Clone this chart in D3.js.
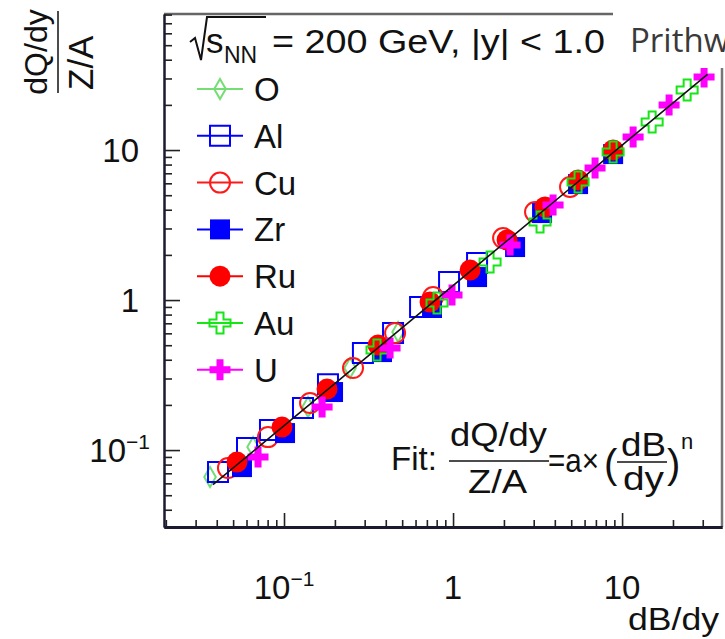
<!DOCTYPE html>
<html>
<head>
<meta charset="utf-8">
<script src="https://cdn.jsdelivr.net/npm/d3@7"></script>
<style>
body { margin: 0; background: #fff; }
text { font-family: "Liberation Sans", Arial, Helvetica, sans-serif; fill: #111; }
</style>
</head>
<body>
<div id="chart"></div>
<script>
// Values: dB/dy (x) and (dQ/dy)/(Z/A) (y) for each system
let dbO = [0.0365, 0.0656, 0.1387, 0.246, 0.473];
let dqO = [0.0661, 0.1047, 0.1936, 0.352, 0.612];

let dbAl = [0.0407, 0.0604, 0.0826, 0.1295, 0.182, 0.293, 0.4416, 0.638, 0.947, 1.387];
let dqAl = [0.0714, 0.1031, 0.136, 0.1905, 0.275, 0.443, 0.6026, 0.898, 1.318, 1.765];

let dbCu = [0.0466, 0.0804, 0.1426, 0.256, 0.454, 0.762, 1.977, 3.055, 4.92];
let dqCu = [0.0759, 0.122, 0.2058, 0.352, 0.6026, 1.047, 2.59, 3.86, 5.67];

let dbZr = [0.0564, 0.1014, 0.195, 0.380, 0.751, 1.387, 2.328, 3.362, 5.49, 8.85];
let dqZr = [0.0770, 0.1298, 0.2437, 0.450, 0.885, 1.423, 2.256, 3.80, 5.93, 9.40];

let dbRu = [0.0527, 0.0973, 0.1797, 0.360, 0.731, 1.261, 2.087, 3.50, 5.49, 8.85];
let dqRu = [0.0832, 0.1423, 0.255, 0.501, 0.970, 1.585, 2.512, 4.17, 6.31, 10.0];

let dbAu = [0.355, 0.804, 1.656, 3.27, 5.49, 8.85, 15.06, 24.26];
let dqAu = [0.464, 0.955, 1.792, 3.31, 6.12, 9.70, 15.37, 25.12];

let dbU = [0.0702, 0.168, 0.424, 0.986, 2.175, 3.906, 6.92, 11.62, 18.97, 30.55];
let dqU = [0.0898, 0.1936, 0.479, 1.08, 2.327, 4.30, 7.59, 12.21, 19.95, 30.67];

let systems = ["O", "Al", "Cu", "Zr", "Ru", "Au", "U"];
let systemX = [dbO, dbAl, dbCu, dbZr, dbRu, dbAu, dbU];
let systemY = [dqO, dqAl, dqCu, dqZr, dqRu, dqAu, dqU];

// Fit (dQ/dy)/(Z/A) = a x (dB/dy)^n
let fitA = 1.25;
let fitN = 0.935;
let fitRange = [0.038, 32];

let majorTicks = [0.1, 1, 10];
let majorBase = ["10", "1", "10"];
let majorExp = ["\u22121", "", ""];

// Marker styles (ROOT-like)
let styles = {
    O:  { color: "#74dd74", sym: d3.symbolDiamond, size: 115, fill: false },
    Al: { color: "#0000ff", sym: d3.symbolSquare, size: 400, fill: false },
    Cu: { color: "#ff1a1a", sym: d3.symbolCircle, size: 314, fill: false },
    Zr: { color: "#0000ff", sym: d3.symbolSquare, size: 400, fill: true },
    Ru: { color: "#ff0000", sym: d3.symbolCircle, size: 346, fill: true },
    Au: { color: "#16e616", sym: d3.symbolCross, size: 245, fill: false },
    U:  { color: "#ff00ff", sym: d3.symbolCross, size: 245, fill: true }
};

let width = 725;
let height = 639;
// frame
let frameL = 164, frameR = 722, frameT = 14, frameB = 527;

let svg = d3
    .select("#chart")
    .append("svg")
    .attr("width", width)
    .attr("height", height);

let xScale = d3.scaleLog().domain([0.0195, 39]).range([frameL, frameR]);
let yScale = d3.scaleLog().domain([0.0307, 80.7]).range([frameB, frameT]);

// Frame top / right (grey)
svg.append("line")
    .attr("x1", frameL).attr("x2", frameR).attr("y1", frameT).attr("y2", frameT)
    .attr("stroke", "#666").attr("stroke-width", 2.5);
svg.append("line")
    .attr("x1", frameR).attr("x2", frameR).attr("y1", frameT).attr("y2", frameB)
    .attr("stroke", "#777").attr("stroke-width", 2.5);

// Axes: minor ticks and major ticks drawn inward
let minorX = xScale.ticks().filter(function(v) { return majorTicks.indexOf(v) < 0; });
let minorY = yScale.ticks().filter(function(v) { return majorTicks.indexOf(v) < 0; });

function styleAxis(g, w) {
    g.select(".domain").attr("stroke", "#1b1b30").attr("stroke-width", w);
    g.selectAll(".tick line").attr("stroke", "#222").attr("stroke-width", 1.6);
    g.selectAll(".tick text").remove();
}

svg.append("g")
    .attr("transform", "translate(0," + frameB + ")")
    .call(d3.axisBottom(xScale).tickValues(minorX).tickSizeInner(-7).tickSizeOuter(0))
    .call(styleAxis, 3);
svg.append("g")
    .attr("transform", "translate(0," + frameB + ")")
    .call(d3.axisBottom(xScale).tickValues(majorTicks).tickSizeInner(-14).tickSizeOuter(0))
    .call(styleAxis, 3);
svg.append("g")
    .attr("transform", "translate(" + frameL + ",0)")
    .call(d3.axisLeft(yScale).tickValues(minorY).tickSizeInner(-8).tickSizeOuter(0))
    .call(styleAxis, 2);
svg.append("g")
    .attr("transform", "translate(" + frameL + ",0)")
    .call(d3.axisLeft(yScale).tickValues(majorTicks).tickSizeInner(-16).tickSizeOuter(0))
    .call(styleAxis, 2);

// Tick labels with exponent
function tickLabel(sel, i) {
    sel.append("tspan").text(majorBase[i]);
    if (majorExp[i]) {
        sel.append("tspan").attr("dy", -13).attr("font-size", 21).text(majorExp[i]);
    }
}
majorTicks.forEach(function(v, i) {
    let t = svg.append("text")
        .attr("x", xScale(v))
        .attr("y", 599)
        .attr("text-anchor", "middle")
        .attr("font-size", 33);
    tickLabel(t, i);
    let u = svg.append("text")
        .attr("x", majorExp[i] ? 150 : 139)
        .attr("y", yScale(v) + 12)
        .attr("text-anchor", "end")
        .attr("font-size", 33);
    tickLabel(u, i);
});

// Axis titles
svg.append("text")
    .attr("x", 719)
    .attr("y", 630)
    .attr("text-anchor", "end")
    .attr("font-size", 32)
    .attr("textLength", 91)
    .attr("lengthAdjust", "spacingAndGlyphs")
    .text("dB/dy");

let yTitle = svg.append("g").attr("transform", "translate(0,93)rotate(-90)");
yTitle.append("text").attr("x", 41).attr("y", 47).attr("text-anchor", "middle")
    .attr("font-size", 32).text("dQ/dy");
yTitle.append("line").attr("x1", 0).attr("x2", 82).attr("y1", 58).attr("y2", 58)
    .attr("stroke", "#111").attr("stroke-width", 1.5);
yTitle.append("text").attr("x", 3).attr("y", 93).attr("text-anchor", "start")
    .attr("font-size", 35).text("Z/A");

// Fit line
let fitPts = d3.range(0, 11).map(function(i) {
    let lx = Math.log10(fitRange[0]) + i / 10 * (Math.log10(fitRange[1]) - Math.log10(fitRange[0]));
    let x = Math.pow(10, lx);
    return [x, fitA * Math.pow(x, fitN)];
});
let line = d3.line()
    .x(function(d) { return xScale(d[0]); })
    .y(function(d) { return yScale(d[1]); });

// Data markers
systems.forEach(function(name, k) {
    let st = styles[name];
    let pts = systemX[k].map(function(x, i) { return [x, systemY[k][i]]; });
    svg.append("g")
        .selectAll("path")
        .data(pts)
        .enter()
        .append("path")
        .attr("d", d3.symbol().type(st.sym).size(st.size))
        .attr("transform", function(d) {
            return "translate(" + xScale(d[0]) + "," + yScale(d[1]) + ")";
        })
        .attr("fill", st.fill ? st.color : "none")
        .attr("stroke", st.fill ? "none" : st.color)
        .attr("stroke-width", 2);
});

svg.append("path")
    .datum(fitPts)
    .attr("d", line)
    .attr("fill", "none")
    .attr("stroke", "#111")
    .attr("stroke-width", 1.6);

// Legend
let legY0 = 89, legStep = 46.8;
systems.forEach(function(name, k) {
    let st = styles[name];
    let y = legY0 + k * legStep;
    svg.append("line")
        .attr("x1", 197).attr("x2", 243).attr("y1", y).attr("y2", y)
        .attr("stroke", st.color).attr("stroke-width", 2);
    svg.append("path")
        .attr("d", d3.symbol().type(st.sym).size(st.size))
        .attr("transform", "translate(220," + y + ")")
        .attr("fill", st.fill ? st.color : "none")
        .attr("stroke", st.fill ? "none" : st.color)
        .attr("stroke-width", 2);
    svg.append("text")
        .attr("x", 254)
        .attr("y", y + 12)
        .attr("font-size", 33)
        .text(name);
});

// Legend header: sqrt(s_NN) = 200 GeV, |y| < 1.0
svg.append("path")
    .attr("d", "M190,42 L195,38 L201,60 L207,17 L266,17")
    .attr("fill", "none")
    .attr("stroke", "#111")
    .attr("stroke-width", 2);
svg.append("text").attr("x", 206).attr("y", 53).attr("font-size", 35).text("s");
svg.append("text").attr("x", 224).attr("y", 63).attr("font-size", 23).text("NN");
svg.append("text").attr("x", 272).attr("y", 53).attr("font-size", 34)
    .attr("textLength", 333)
    .attr("lengthAdjust", "spacingAndGlyphs")
    .text("= 200 GeV, |y| < 1.0");

// Fit formula
svg.append("text").attr("x", 391).attr("y", 470).attr("font-size", 33).text("Fit:");
svg.append("text").attr("x", 450).attr("y", 446)
    .attr("font-size", 33).attr("textLength", 97).attr("lengthAdjust", "spacingAndGlyphs")
    .text("dQ/dy");
svg.append("line").attr("x1", 449).attr("x2", 549).attr("y1", 461).attr("y2", 461)
    .attr("stroke", "#111").attr("stroke-width", 1.5);
svg.append("text").attr("x", 468).attr("y", 493)
    .attr("font-size", 33).attr("textLength", 59).attr("lengthAdjust", "spacingAndGlyphs")
    .text("Z/A");
svg.append("text").attr("x", 548).attr("y", 472).attr("font-size", 33)
    .attr("textLength", 51).attr("lengthAdjust", "spacingAndGlyphs")
    .text("=a\u00d7");
svg.append("text").attr("x", 604).attr("y", 478).attr("font-size", 40).text("(");
svg.append("text").attr("x", 621).attr("y", 456)
    .attr("font-size", 33).attr("textLength", 45).attr("lengthAdjust", "spacingAndGlyphs")
    .text("dB");
svg.append("line").attr("x1", 617).attr("x2", 667).attr("y1", 462).attr("y2", 462)
    .attr("stroke", "#111").attr("stroke-width", 1.5);
svg.append("text").attr("x", 623).attr("y", 490)
    .attr("font-size", 33).attr("textLength", 41).attr("lengthAdjust", "spacingAndGlyphs")
    .text("dy");
svg.append("text").attr("x", 667).attr("y", 478).attr("font-size", 40).text(")");
svg.append("text").attr("x", 681).attr("y", 449).attr("font-size", 22).text("n");

// Overlapping label box at the top right
svg.append("rect")
    .attr("x", 613).attr("y", 0).attr("width", 112).attr("height", 68)
    .attr("fill", "#fff");
svg.append("text")
    .attr("x", 630)
    .attr("y", 52)
    .attr("font-size", 33)
    .style("font-family", "'Open Sans', 'Noto Sans', sans-serif")
    .style("fill", "#3a3a3a")
    .text("Prithw");
</script>
</body>
</html>
